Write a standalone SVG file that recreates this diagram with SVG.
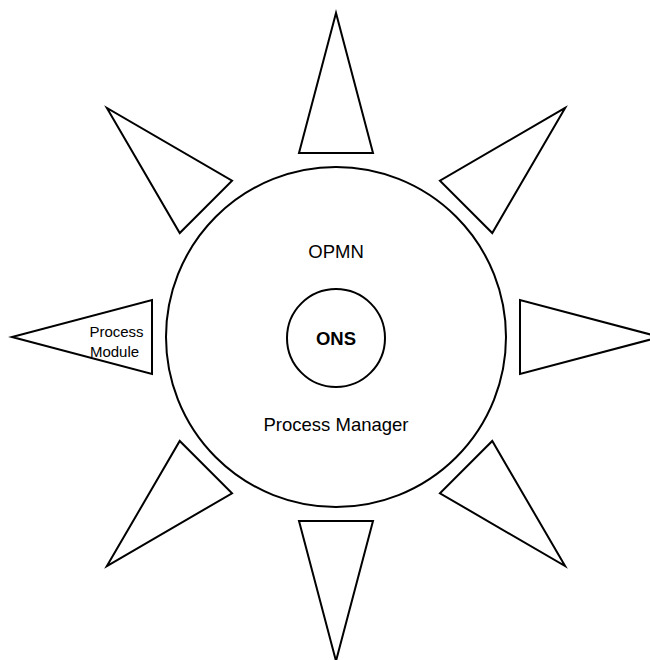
<svg xmlns="http://www.w3.org/2000/svg" width="650" height="660" viewBox="0 0 650 660">
<style>
.s{fill:#fff;stroke:#000;stroke-width:2;stroke-linejoin:miter}
.t{font-family:"Liberation Sans",Arial,sans-serif;fill:#000;text-anchor:middle}
</style>
<defs>
<polygon id="tri" class="s" points="336,13 299,153 373,153"/>
</defs>
<rect width="650" height="660" fill="#fff"/>
<g id="opmn">
<circle class="s" cx="336" cy="337" r="170"/>
<text class="t" x="336" y="258" font-size="18.5">OPMN</text>
<text class="t" x="336" y="431" font-size="18.5">Process Manager</text>
</g>
<g id="ons">
<circle class="s" cx="336" cy="338" r="49"/>
<text class="t" x="336" y="345" font-size="18.5" font-weight="bold">ONS</text>
</g>
<g id="pm-top"><use href="#tri"/></g>
<g id="pm-topright"><use href="#tri" transform="rotate(45 336 337)"/></g>
<g id="pm-right"><use href="#tri" transform="rotate(90 336 337)"/></g>
<g id="pm-bottomright"><use href="#tri" transform="rotate(135 336 337)"/></g>
<g id="pm-bottom"><use href="#tri" transform="rotate(180 336 337)"/></g>
<g id="pm-bottomleft"><use href="#tri" transform="rotate(225 336 337)"/></g>
<g id="pm-left"><use href="#tri" transform="rotate(270 336 337)"/>
<text class="t" x="116.5" y="337" font-size="15">Process</text>
<text class="t" x="114.5" y="357" font-size="15">Module</text>
</g>
<g id="pm-topleft"><use href="#tri" transform="rotate(315 336 337)"/></g>
<g id="connectors"/>
</svg>
